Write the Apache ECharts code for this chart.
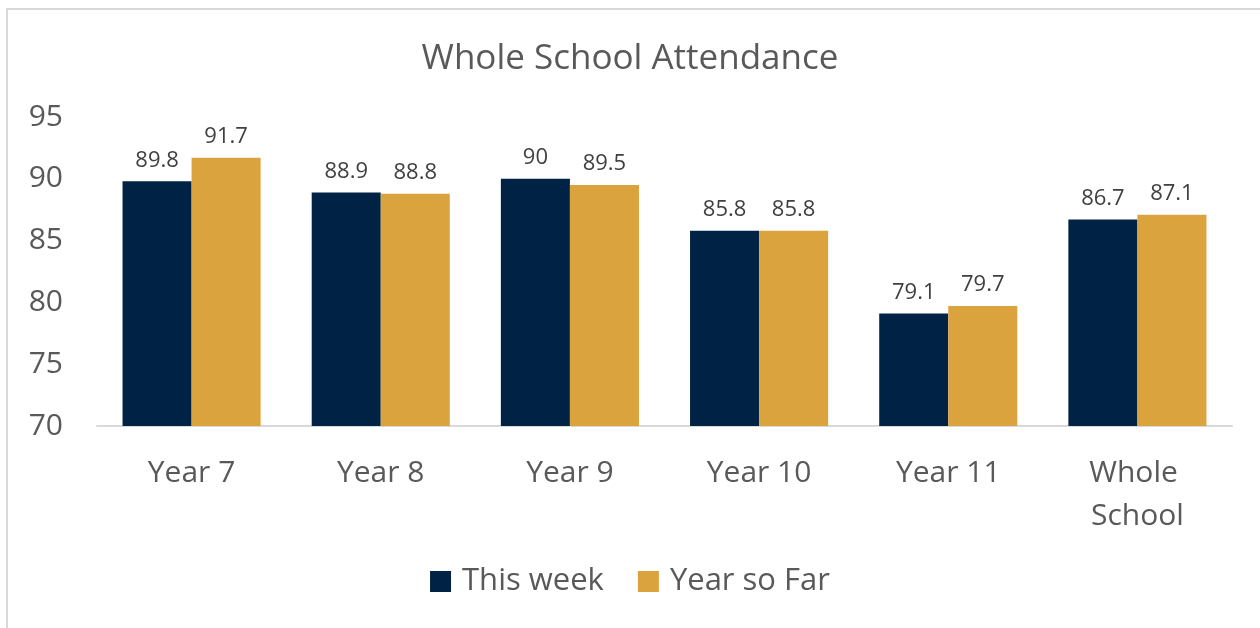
<!DOCTYPE html>
<html>
<head>
<meta charset="utf-8">
<script src="https://cdn.jsdelivr.net/npm/echarts@6/dist/echarts.min.js"></script>
<style>
  html, body { margin: 0; padding: 0; background: #fff; }
  #chart { width: 1260px; height: 628px; }
</style>
</head>
<body>
<div id="chart"></div>
<script>
  const categories = ['Year 7', 'Year 8', 'Year 9', 'Year 10', 'Year 11', 'Whole School']
  const thisWeek = [89.8, 88.9, 90, 85.8, 79.1, 86.7]
  const yearSoFar = [91.7, 88.8, 89.5, 85.8, 79.7, 87.1]
  const seriesNames = ['This week', 'Year so Far']

  const font = '"Open Sans", Lato, sans-serif'
  const chart = echarts.init(document.getElementById('chart'))

  const labelOpt = {
    show: true,
    position: 'top',
    distance: 10,
    color: '#404040',
    fontSize: 22,
    fontFamily: font
  }

  chart.setOption({
    animation: false,
    title: {
      text: 'Whole School Attendance',
      left: 'center',
      top: 37,
      textStyle: { color: '#595959', fontSize: 35, fontWeight: 'normal', fontFamily: font }
    },
    graphic: [{
      type: 'rect',
      shape: { x: 7, y: 9, width: 1300, height: 700 },
      style: { fill: 'none', stroke: '#d9d9d9', lineWidth: 2 }
    }],
    legend: {
      data: seriesNames,
      bottom: 26,
      left: 'center',
      itemWidth: 21,
      itemHeight: 21,
      itemGap: 34,
      icon: 'rect',
      textStyle: { color: '#595959', fontSize: 31, fontFamily: font, padding: [0, 0, 0, 6] }
    },
    grid: { left: 97, right: 28, top: 117, bottom: 202 },
    xAxis: {
      type: 'category',
      data: categories,
      axisTick: { show: false },
      axisLine: { lineStyle: { color: '#d9d9d9', width: 2 } },
      axisLabel: {
        color: '#595959',
        fontSize: 30,
        fontFamily: font,
        margin: 26,
        lineHeight: 43,
        width: 150,
        overflow: 'break',
        interval: 0
      }
    },
    yAxis: {
      type: 'value',
      min: 70,
      max: 95,
      interval: 5,
      axisLine: { show: false },
      axisTick: { show: false },
      splitLine: { show: false },
      axisLabel: { color: '#595959', fontSize: 30, fontFamily: font, margin: 34 }
    },
    series: [
      {
        type: 'bar',
        name: seriesNames[0],
        data: thisWeek,
        itemStyle: { color: '#002345' },
        barGap: '0%',
        barCategoryGap: '27%',
        label: labelOpt
      },
      {
        type: 'bar',
        name: seriesNames[1],
        data: yearSoFar,
        itemStyle: { color: '#dba33e' },
        label: labelOpt
      }
    ]
  })
</script>
</body>
</html>
